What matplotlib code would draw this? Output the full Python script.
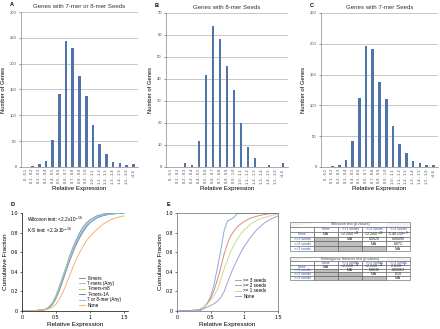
import numpy as np
import matplotlib
matplotlib.use("Agg")
import matplotlib.pyplot as plt

plt.rcParams['font.family'] = ['Liberation Sans', 'DejaVu Sans']

# histogram bins
bins = ['0 - 0.1', '0.1 - 0.2', '0.2 - 0.3', '0.3 - 0.4', '0.4 - 0.5', '0.5 - 0.6',
        '0.6 - 0.7', '0.7 - 0.8', '0.8 - 0.9', '0.9 - 1.0', '1.0 - 1.1', '1.1 - 1.2',
        '1.2 - 1.3', '1.3 - 1.4', '1.4 - 1.5', '1.5 - 1.6', '>1.6']
counts_a = [0, 1, 5, 11, 52, 142, 243, 231, 176, 138, 82, 45, 26, 9, 7, 3, 6]
counts_b = [0, 0, 2, 1, 12, 42, 64, 58, 46, 35, 20, 9, 4, 0, 1, 0, 2]
counts_c = [0, 1, 3, 11, 43, 112, 196, 191, 138, 111, 66, 37, 22, 9, 6, 3, 4]

# cumulative curves, panel D
cdf_x = [0, 0.1, 0.2, 0.3, 0.35, 0.4, 0.45, 0.5, 0.55, 0.6, 0.65, 0.7, 0.75, 0.8,
         0.85, 0.9, 0.95, 1.0, 1.1, 1.2, 1.3, 1.4, 1.5]
d_8mer = [0, 0, 0.005, 0.01, 0.02, 0.04, 0.08, 0.15, 0.25, 0.35, 0.45, 0.56, 0.65, 0.73,
          0.80, 0.86, 0.90, 0.93, 0.97, 0.99, 1.0, 1.0, 1.0]
d_7any = [0, 0, 0.005, 0.01, 0.015, 0.03, 0.07, 0.13, 0.22, 0.32, 0.42, 0.52, 0.61, 0.69,
          0.76, 0.82, 0.87, 0.90, 0.95, 0.975, 0.99, 0.995, 1.0]
d_7m8 = [0, 0, 0.005, 0.01, 0.02, 0.05, 0.09, 0.16, 0.25, 0.35, 0.45, 0.55, 0.63, 0.71,
         0.78, 0.83, 0.88, 0.91, 0.955, 0.98, 0.99, 0.995, 1.0]
d_71a = [0, 0, 0.005, 0.01, 0.015, 0.03, 0.07, 0.13, 0.21, 0.31, 0.41, 0.51, 0.60, 0.68,
         0.75, 0.81, 0.86, 0.90, 0.95, 0.975, 0.99, 0.995, 1.0]
d_78any = [0, 0, 0.005, 0.01, 0.015, 0.035, 0.075, 0.14, 0.23, 0.33, 0.43, 0.53, 0.62, 0.70,
           0.77, 0.83, 0.875, 0.905, 0.955, 0.98, 0.99, 0.995, 1.0]
d_none = [0, 0, 0.005, 0.01, 0.015, 0.025, 0.04, 0.07, 0.12, 0.19, 0.27, 0.36, 0.45, 0.53,
          0.60, 0.66, 0.72, 0.76, 0.83, 0.89, 0.93, 0.955, 0.97]
d_labels = ['8-mers', '7-mers (Any)', '7-mers-m8', '7-mers-1A', '7 or 8-mer (Any)', 'None']

# cumulative curves, panel E
e_3 = [0, 0, 0, 0, 0.005, 0.03, 0.08, 0.15, 0.27, 0.44, 0.62, 0.82, 0.92, 0.935,
       0.96, 0.995, 1.0, 1.0, 1.0, 1.0, 1.0, 1.0, 1.0]
e_2 = [0, 0.005, 0.005, 0.01, 0.02, 0.04, 0.08, 0.13, 0.21, 0.32, 0.44, 0.58, 0.69, 0.77,
       0.82, 0.86, 0.89, 0.915, 0.95, 0.97, 0.985, 0.995, 1.0]
e_1 = [0, 0.005, 0.005, 0.01, 0.02, 0.04, 0.07, 0.11, 0.16, 0.22, 0.32, 0.43, 0.52, 0.61,
       0.68, 0.74, 0.79, 0.83, 0.89, 0.93, 0.955, 0.975, 0.99]
e_0 = [0, 0.005, 0.005, 0.01, 0.015, 0.025, 0.04, 0.055, 0.075, 0.10, 0.14, 0.20, 0.29, 0.38,
       0.46, 0.53, 0.60, 0.66, 0.76, 0.84, 0.90, 0.94, 0.97]
e_labels = ['>= 3 seeds', '>= 2 seeds', '>= 1 seeds', 'None']

# p-value tables
groups = ['None', '>=1 seeds', '>=2 seeds', '>=3 seeds']
wilcox = [['N/A', r'<2.2x10$^{-16}$', r'<2.2x10$^{-16}$', r'5.48 x 10$^{-9}$'],
          ['', 'N/A', '0.0029', '0.00099'],
          ['', '', 'N/A', '0.072'],
          ['', '', '', 'N/A']]
ks = [['N/A', r'<2.2x10$^{-16}$', r'<2.2x10$^{-16}$', r'2.0x10$^{-6}$'],
      ['', 'N/A', '0.0036', '0.00063'],
      ['', '', 'N/A', '0.19'],
      ['', '', '', 'N/A']]

fig = plt.figure(figsize=(4.4, 3.29), dpi=100)
W, H = 440.0, 329.0


def box(x0, x1, y0, y1):
    return [x0 / W, 1 - y1 / H, (x1 - x0) / W, (y1 - y0) / H]


bar_col = '#4f74aa'
hist_panels = [
    ('A', 'Genes with 7-mer or 8-mer Seeds', counts_a, 300, 50, box(21, 138, 12, 167)),
    ('B', 'Genes with 8-mer Seeds', counts_b, 70, 10, box(166, 288, 13, 167)),
    ('C', 'Genes with 7-mer Seeds', counts_c, 250, 50, box(321, 438, 13, 167)),
]
for letter, title, counts, ymax, step, rect in hist_panels:
    ax = fig.add_axes(rect)
    x = np.arange(len(bins))
    ax.bar(x, counts, width=0.4, color=bar_col, zorder=3)
    ax.set_xlim(-0.7, len(bins) - 0.3)
    ax.set_ylim(0, ymax)
    ax.set_yticks(np.arange(0, ymax + 1, step))
    ax.set_xticks(x)
    ax.set_xticklabels(bins, rotation=90, fontsize=2.8)
    ax.tick_params(axis='y', labelsize=3, length=1.5, width=0.4, pad=1.5, colors='#444444')
    ax.tick_params(axis='x', length=0, pad=1.5, colors='#444444')
    ax.yaxis.grid(True, color='#b0b0b0', linewidth=0.5)
    for s in ['top', 'right']:
        ax.spines[s].set_visible(False)
    ax.spines['left'].set_color('#888888')
    ax.spines['bottom'].set_color('#888888')
    ax.spines['left'].set_linewidth(0.5)
    ax.spines['bottom'].set_linewidth(0.5)
    ax.set_title(title, fontsize=4.4, pad=3, color='#333333')
    ax.set_ylabel('Number of Genes', fontsize=4.2, labelpad=3)
    ax.set_xlabel('Relative Expression', fontsize=4.4, labelpad=2)
    ax.text(-0.06, 1.03, letter, transform=ax.transAxes, fontsize=4, fontweight='bold',
            ha='right', va='bottom')

leg_kw = dict(fontsize=3.3, frameon=False, handlelength=1.4, handletextpad=0.4,
              labelspacing=0.08, borderaxespad=0, borderpad=0, loc='upper left')

# panel D
axd = fig.add_axes(box(22, 128, 213, 311))
d_cols = ['#6f8fcc', '#e8a394', '#b9d17f', '#8a7bb4', '#7fc6df', '#f6b26f']
for ys, lab, c in zip([d_8mer, d_7any, d_7m8, d_71a, d_78any, d_none], d_labels, d_cols):
    axd.plot(cdf_x, ys, color=c, lw=0.7, label=lab)
axd.set_xlim(0, 1.56)
axd.set_ylim(0, 1.0)
axd.set_xticks([0, 0.5, 1, 1.5])
axd.set_xticklabels(['0', '0.5', '1', '1.5'])
axd.set_yticks(np.arange(0, 1.01, 0.2))
axd.set_yticklabels(['0', '0.2', '0.4', '0.6', '0.8', '1.0'])
for s in ['top', 'right']:
    axd.spines[s].set_visible(False)
for s in ['left', 'bottom']:
    axd.spines[s].set_linewidth(0.5)
axd.tick_params(labelsize=3.8, length=1.5, width=0.4, pad=1.5)
axd.set_xlabel('Relative Expression', fontsize=4.6, labelpad=1.5)
axd.set_ylabel('Cumulative Fraction', fontsize=4.6, labelpad=2)
axd.text(0.07, 0.94, r'Wilcoxon test: <2.2x10$^{-16}$', fontsize=3.4, va='center')
axd.text(0.07, 0.82, r'K-S test: <2.2x10$^{-16}$', fontsize=3.4, va='center')
axd.legend(bbox_to_anchor=(0.84, 0.36), bbox_transform=axd.transData, **leg_kw)
axd.text(-0.07, 1.06, 'D', transform=axd.transAxes, fontsize=4, fontweight='bold',
         ha='right', va='bottom')

# panel E
axe = fig.add_axes(box(177, 278, 213, 311))
e_cols = ['#86aee0', '#e2887e', '#cbdc8d', '#a99bd6']
for ys, lab, c in zip([e_3, e_2, e_1, e_0], e_labels, e_cols):
    axe.plot(cdf_x, ys, color=c, lw=0.7, label=lab)
axe.set_xlim(0, 1.5)
axe.set_ylim(0, 1.0)
axe.set_xticks([0, 0.5, 1, 1.5])
axe.set_xticklabels(['0', '0.5', '1', '1.5'])
axe.set_yticks(np.arange(0, 1.01, 0.2))
axe.set_yticklabels(['0', '0.2', '0.4', '0.6', '0.8', '1.0'])
for s in axe.spines.values():
    s.set_linewidth(0.5)
    s.set_color('#666666')
axe.tick_params(labelsize=3.8, length=1.5, width=0.4, pad=1.5)
axe.set_xlabel('Relative Expression', fontsize=4.6, labelpad=1.5)
axe.set_ylabel('Cumulative Fraction', fontsize=4.6, labelpad=2)
axe.legend(bbox_to_anchor=(0.86, 0.34), bbox_transform=axe.transData, **leg_kw)
axe.text(-0.07, 1.06, 'E', transform=axe.transAxes, fontsize=4, fontweight='bold',
         ha='right', va='bottom')


def pval_table(rect, title, values):
    ax = fig.add_axes(rect)
    ax.axis('off')
    rows = [['', '', title, '', ''], [''] + groups]
    for g, vals in zip(groups, values):
        rows.append([g] + vals)
    tb = ax.table(cellText=rows, loc='center', bbox=[0, 0, 1, 1], cellLoc='center')
    tb.auto_set_font_size(False)
    tb.set_fontsize(2.6)
    for (r, c), cell in tb.get_celld().items():
        cell.set_linewidth(0.4)
        cell.set_edgecolor('#555555')
        cell.PAD = 0.02
        txt = cell.get_text()
        txt.set_color('#222222')
        if r == 0:
            cell.visible_edges = 'BTL' if c == 0 else ('BTR' if c == 4 else 'BT')
            cell.set_facecolor('#f2f2f2')
            txt.set_color('#444444')
        elif r == 1 or c == 0:
            txt.set_color('#3355bb')
        if r >= 2 and c >= 1 and rows[r][c] == '':
            cell.set_facecolor('#bfbfbf')
    return ax


pval_table(box(290, 410, 222, 251), 'Wilcoxon test (p values)', wilcox)
pval_table(box(290, 410, 257, 280), 'Kolmogorov-Smirnov test (p values)', ks)

fig.savefig('out.png', dpi=100)
